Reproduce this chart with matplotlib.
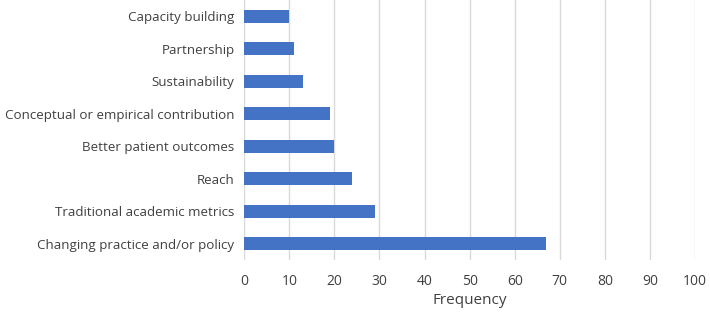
import matplotlib.pyplot as plt

categories = ["Changing practice and/or policy", "Traditional academic metrics", "Reach",
              "Better patient outcomes", "Conceptual or empirical contribution",
              "Sustainability", "Partnership", "Capacity building"]
frequency = [67, 29, 24, 20, 19, 13, 11, 10]
xticks = list(range(0, 101, 10))

plt.rcParams['font.family'] = ['Open Sans', 'DejaVu Sans']

fig = plt.figure(figsize=(7.1, 3.14), dpi=100)
ax = fig.add_axes([0.344, 0.172, 0.635, 0.828])

ax.barh(range(len(categories)), frequency, height=0.4, color='#4472C4', zorder=3)
ax.set_yticks(range(len(categories)))
ax.set_yticklabels(categories, fontsize=9.6, color='#404040')
ax.set_ylim(-0.5, len(categories) - 0.5)
ax.set_xlim(0, 100)
ax.set_xticks(xticks)
ax.set_xticklabels([str(t) for t in xticks], fontsize=10, color='#404040')
ax.grid(axis='x', color='#d9d9d9', linewidth=1, zorder=0)
ax.tick_params(axis='y', length=0, pad=7)
ax.tick_params(axis='x', length=0, pad=10)
for s in ax.spines.values():
    s.set_visible(False)
ax.set_xlabel("Frequency", fontsize=11, color='#404040', labelpad=3)

fig.savefig("out.png", dpi=100)
